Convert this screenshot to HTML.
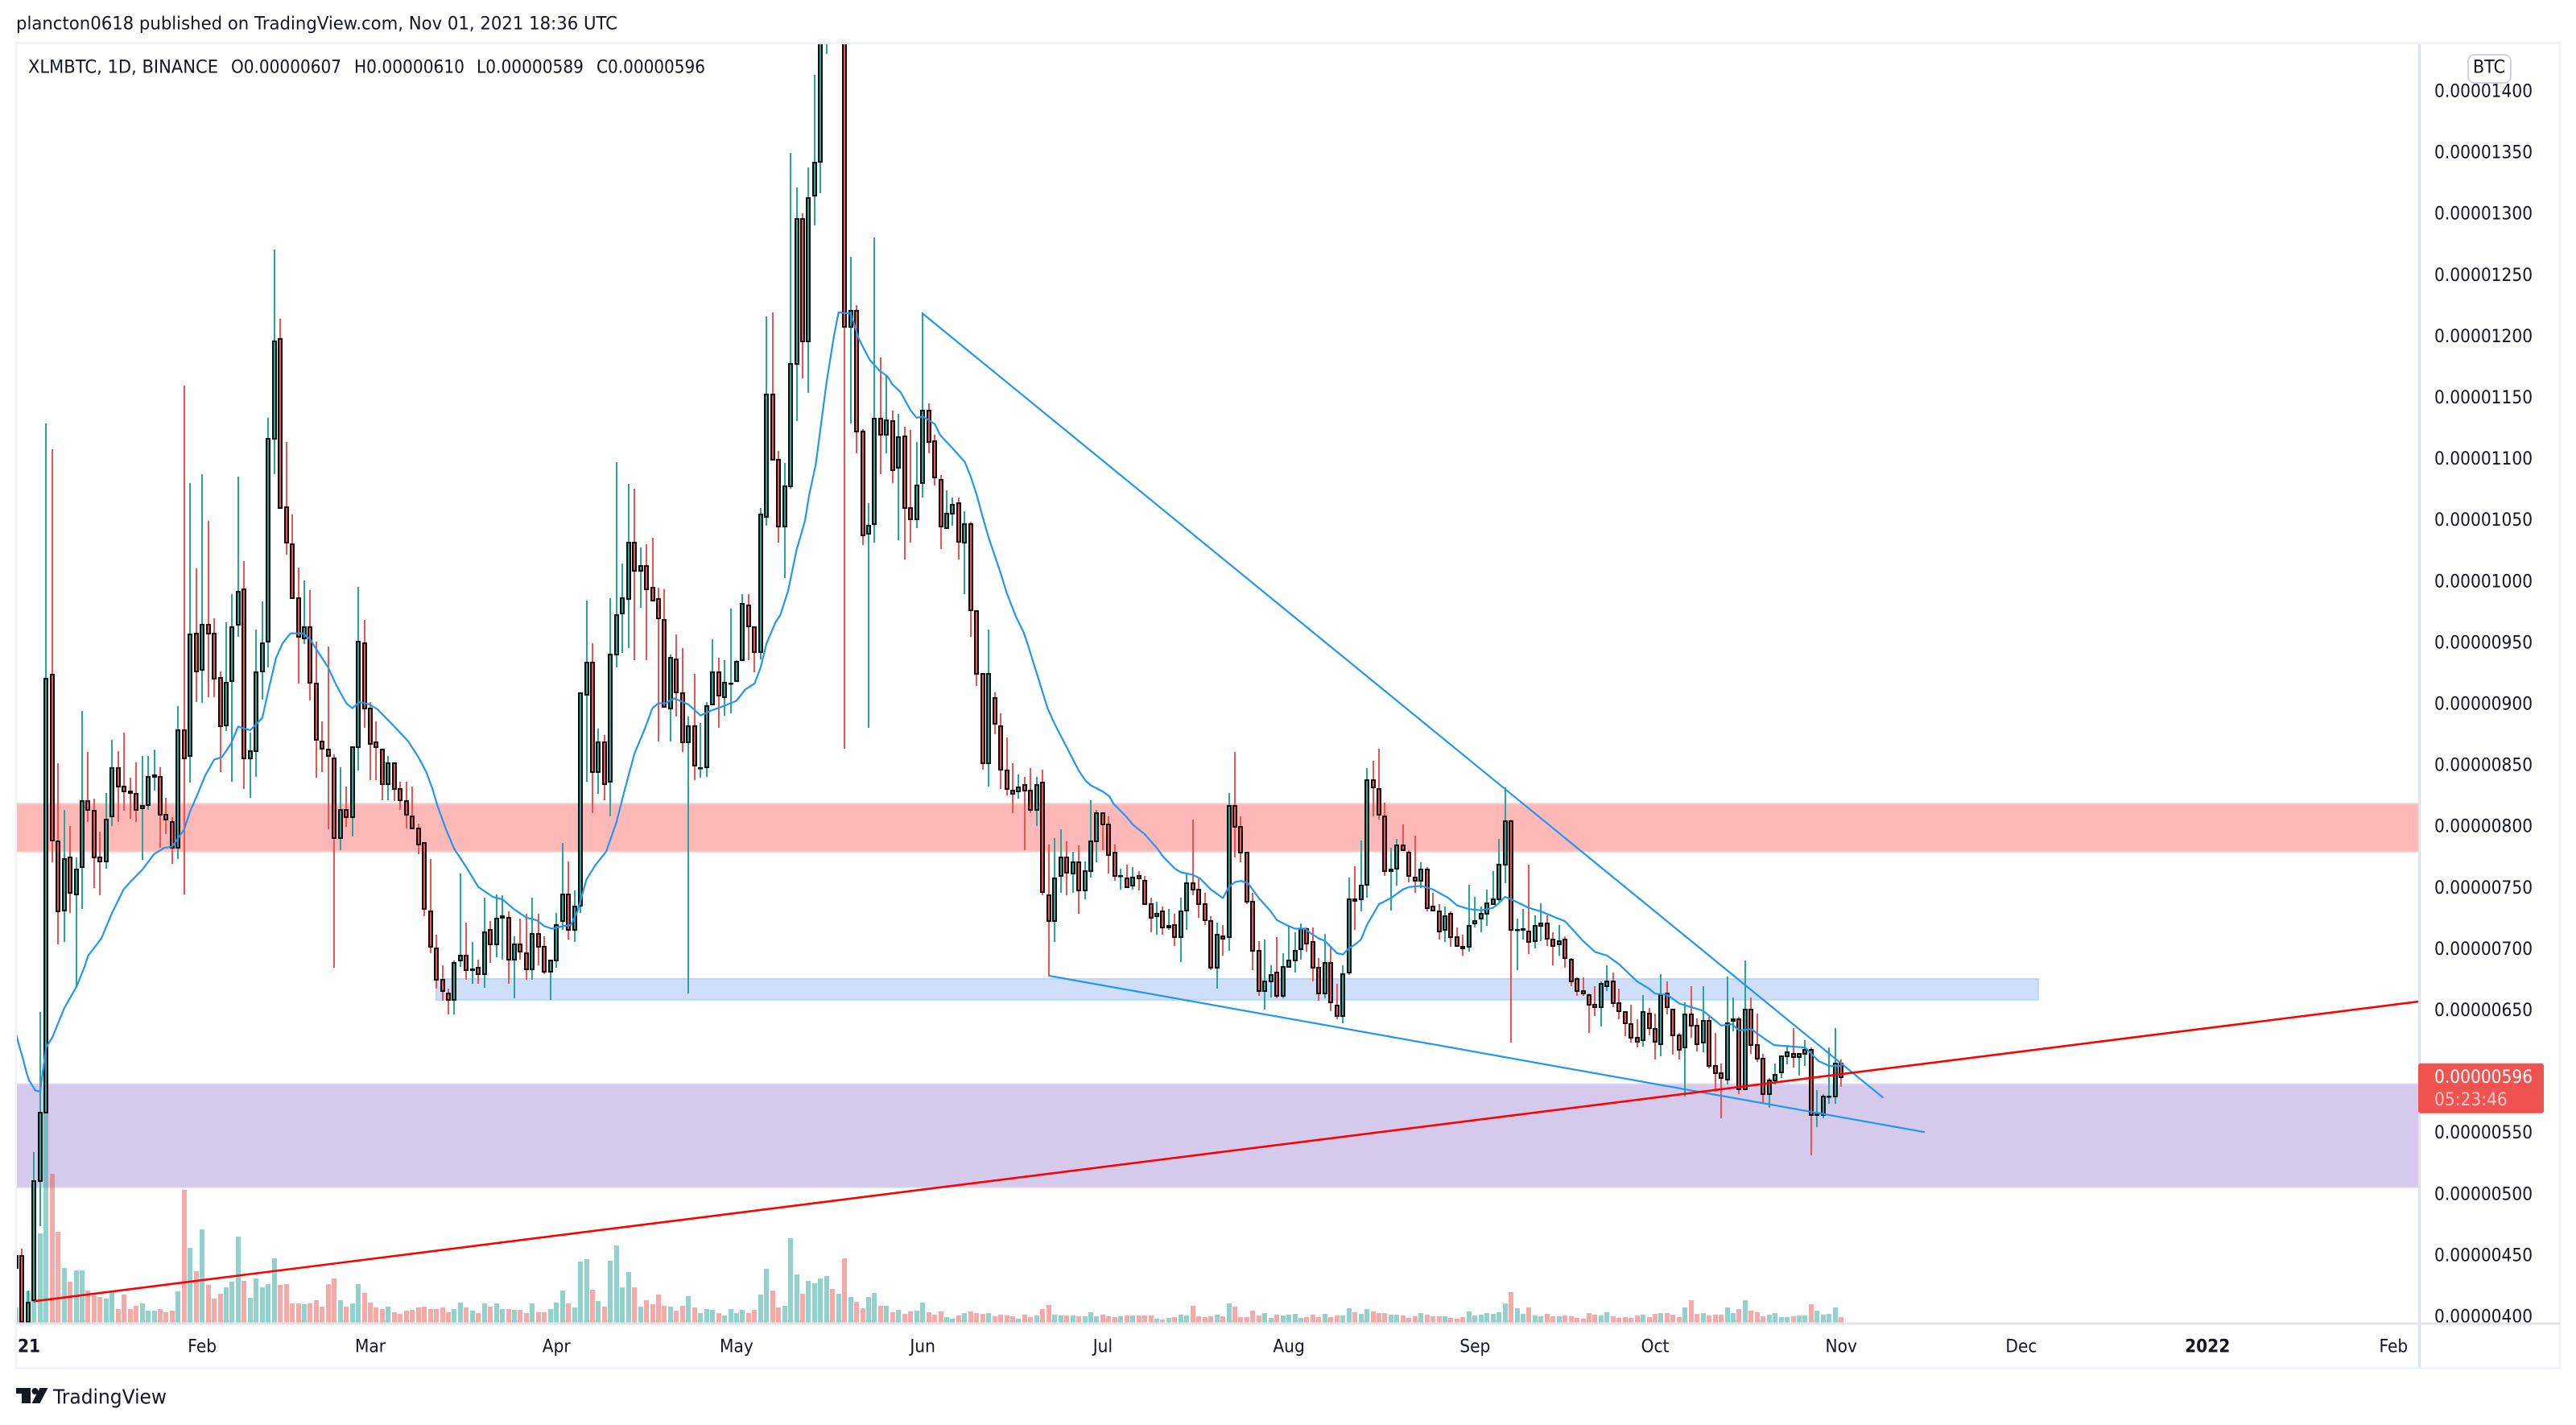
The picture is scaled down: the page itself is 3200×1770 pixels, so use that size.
<!DOCTYPE html>
<html lang="en">
<head>
<meta charset="utf-8">
<title>XLMBTC 1D chart</title>
<style>
html,body{margin:0;padding:0;background:#fff;}
body{width:3200px;height:1770px;overflow:hidden;}
svg{display:block;}
text{font-family:"DejaVu Sans","Liberation Sans",sans-serif;fill:#131722;}
</style>
</head>
<body>
<svg id="chart" xmlns="http://www.w3.org/2000/svg" width="3200" height="1770" viewBox="0 0 3200 1770">
  <defs>
    <clipPath id="plot-clip"><rect x="21" y="55" width="2983" height="1588"/></clipPath>
    <clipPath id="axis-clip"><rect x="3007" y="55" width="172" height="1588"/></clipPath>
  </defs>
  <rect x="0" y="0" width="3200" height="1770" fill="#ffffff"/>
  <text x="20" y="30" font-size="22" textLength="747" lengthAdjust="spacingAndGlyphs" dominant-baseline="central">plancton0618 published on TradingView.com, Nov 01, 2021 18:36 UTC</text>
  <rect x="20" y="53.5" width="3160" height="1646" fill="none" stroke="#f0f3fa" stroke-width="3"/>
  <g id="plot" clip-path="url(#plot-clip)"></g>
  <g id="x-axis"></g>
  <g id="y-axis" clip-path="url(#axis-clip)"></g>
  <rect x="3004" y="55" width="3" height="1644" fill="#e0e3eb"/>
  <rect x="20" y="1642.5" width="3160" height="3" fill="#e0e3eb"/>
  <g id="last-price"></g>
  <rect x="3066" y="68" width="53" height="35" rx="8" fill="#ffffff" stroke="#d1d4dc" stroke-width="2"/>
  <text x="3072" y="84" font-size="22" textLength="40" lengthAdjust="spacingAndGlyphs" dominant-baseline="central">BTC</text>
  <g>
    <text x="35" y="84" font-size="22" textLength="236" lengthAdjust="spacingAndGlyphs" dominant-baseline="central">XLMBTC, 1D, BINANCE</text>
    <text x="287" y="84" font-size="22" textLength="137" lengthAdjust="spacingAndGlyphs" dominant-baseline="central">O0.00000607</text>
    <text x="440" y="84" font-size="22" textLength="137" lengthAdjust="spacingAndGlyphs" dominant-baseline="central">H0.00000610</text>
    <text x="592" y="84" font-size="22" textLength="133" lengthAdjust="spacingAndGlyphs" dominant-baseline="central">L0.00000589</text>
    <text x="741" y="84" font-size="22" textLength="135" lengthAdjust="spacingAndGlyphs" dominant-baseline="central">C0.00000596</text>
  </g>
  <g>
    <path d="M20 1724H38V1743H27V1731H20Z" fill="#131722"/>
    <circle cx="43.5" cy="1728" r="4" fill="#131722"/>
    <path d="M49.5 1724H59.5L49.5 1743H39.5Z" fill="#131722"/>
    <text x="66" y="1735" font-size="25" textLength="141" lengthAdjust="spacingAndGlyphs" dominant-baseline="central">TradingView</text>
  </g>
</svg>
<script>
// Prices are in units of 1e-8 BTC; indexes are daily candles counted from 1 Jan 2021.
const opens=[440,450,396,414,511,567,924,788,732,775,745,767,821,813,775,772,809,848,833,829,827,815,818,841,841,810,804,783,879,858,958,928,965,958,922,883,919,965,994,856,862,927,951,1117,1198,1061,1031,987,954,963,917,870,863,856,791,814,808,865,950,897,869,863,835,852,831,821,809,799,787,731,701,675,664,659,691,695,683,685,680,716,704,726,726,692,704,697,684,713,702,682,691,723,745,716,736,908,934,845,869,837,941,974,986,1032,1009,1013,995,986,969,897,937,909,869,882,848,849,900,926,906,917,919,936,981,963,943,1053,1153,1100,1045,1078,1178,1296,1196,1315,1343,1510,1750,1650,1900,1208,1221,1123,1039,1047,1133,1120,1131,1093,1119,1060,1051,1081,1140,1115,1083,1044,1056,1064,1032,1047,976,925,852,905,882,846,830,829,834,830,814,836,744,723,760,775,762,771,748,764,788,811,802,779,760,758,752,760,756,737,727,731,718,720,710,732,754,749,737,723,685,711,710,817,800,779,739,699,666,674,681,662,686,691,700,717,706,685,664,689,654,646,681,741,741,753,838,831,809,764,766,785,779,759,756,765,735,731,716,729,710,702,702,721,725,729,737,741,769,805,716,716,715,707,719,721,708,704,708,692,676,666,663,655,653,670,674,656,649,639,628,626,648,635,623,664,651,630,620,647,638,624,642,605,599,594,642,643,586,651,622,611,582,593,600,613,615,612,615,618,565,565,580,580,607];
const closes=[450,396,412,511,567,921,789,731,774,746,765,821,814,775,772,806,848,833,829,828,814,817,841,842,810,806,783,879,856,957,927,965,958,921,882,918,963,992,856,862,926,950,1117,1196,1060,1032,987,955,963,918,871,864,858,791,814,808,865,951,897,868,865,835,852,831,822,810,799,786,733,702,675,666,659,689,695,683,684,680,714,704,725,727,692,704,698,684,713,702,682,691,720,745,716,735,909,934,845,869,835,941,973,987,1032,1009,1013,994,985,970,898,938,910,869,882,850,848,899,926,907,918,917,935,982,964,943,1055,1153,1100,1045,1078,1178,1296,1196,1313,1342,1510,1750,1650,1900,1208,1221,1123,1038,1046,1133,1120,1132,1091,1118,1060,1051,1079,1140,1114,1085,1045,1056,1063,1033,1047,977,925,852,925,884,847,831,827,832,830,814,834,747,723,758,775,763,771,748,764,788,811,802,777,760,760,751,759,758,737,726,729,718,719,710,731,754,749,737,724,685,712,709,817,800,779,739,699,666,674,679,662,686,691,699,717,705,685,664,689,657,646,680,741,740,752,838,832,810,764,765,785,781,760,756,765,734,732,715,727,710,703,701,719,723,729,738,741,769,805,716,716,716.5,706,719,721,709,703,707,693,674,666,664,655,653,672,674,656,650,640,628,625,649,636,625,663,653,630,618,647,638,623,642,605,599,595,640,643,586,651,622,611,582,593,598,613,616,612,615,618,565,566,580,580,607,596];
const highs=[476,456,422,535,649,1129,1108,852,814,801,775,895,861,823,796,828,871,862,877,840,853,858,858,863,849,824,808,899,1160,1081,1011,1088,1050,970,927,967,990,1086,1017,877,961,984,1134,1271,1215,1114,1055,1012,1001,993,951,886,947,859,849,833,866,996,969,902,886,863,858,852,837,837,833,803,787,774,712,687,668,691,762,722,706,692,742,723,745,744,731,711,725,729,742,729,711,691,730,787,772,748,909,985,950,880,875,987,1098,1015,1080,1076,1028,1031,1036,995,994,941,957,946,890,925,885,902,953,938,936,978,936,990,990,963,1060,1217,1220,1107,1097,1350,1322,1301,1338,1414,1520,1780,1760,1920,1950,1265,1226,1125,1064,1281,1183,1168,1140,1137,1127,1124,1114,1220,1146,1120,1087,1075,1069,1069,1058,1049,976,925,961,910,893,873,852,843,841,848,841,847,786,791,798,788,780,785,772,822,814,812,809,786,766,769,767,764,760,742,739,735,733,729,742,762,806,758,746,727,722,720,828,861,809,779,746,707,708,687,710,697,720,714,721,718,718,693,713,703,672,687,759,768,789,848,854,864,820,783,790,802,781,793,771,767,746,737,735,731,718,712,753,743,735,749,764,790,832,806,725,733,769,728,738,728,714,720,711,693,677,677,664,670,674,687,681,668,649,655,643,663,652,648,680,674,651,632,657,670,644,670,645,632,607,678,661,645,691,661,648,615,595,607,613,622,636,615,626,620,585,582,620,636,610];
const lows=[436,395,395,412,474,567,771,704,706,730,670,733,804,750,744,766,801,804,813,807,804,773,814,830,783,794,770,774,745,836,902,901,906,906,845,878,837,955,831,824,841,904,930,1088,1060,1022,987,917,949,903,840,845,798,685,781,800,792,846,881,838,838,822,822,821,814,799,799,778,727,697,668,658,647,647,686,675,672,672,669,689,694,692,672,660,692,675,675,687,680,659,685,716,708,706,730,837,811,827,822,809,930,942,946,936,979,936,985,870,898,870,890,861,664,838,840,841,900,881,891,893,919,936,936,926,937,1046,1100,1032,1003,1076,1131,1166,1154,1291,1317,1431,1640,1640,864,1129,1105,1030,881,1032,1088,1105,1081,1034,1018,1032,1044,1069,1105,1079,1027,1043,1046,1018,990,955,915,847,833,876,831,826,811,823,781,811,801,744,678,706,746,744,746,729,741,759,771,781,762,756,749,751,749,748,737,714,712,712,716,703,690,716,744,726,720,683,668,695,699,775,771,737,683,662,651,661,660,660,686,681,692,698,674,658,660,650,643,640,679,716,731,742,809,806,760,732,752,781,755,746,750,731,731,708,706,702,702,695,698,718,714,719,737,739,754,624,683,708,696,701,707,703,687,695,685,670,662,662,632,646,637,666,653,643,629,624,620,621,630,610,613,647,614,610,580,628,617,616,603,584,562,590,633,582,586,615,608,574,571,590,595,606,604,597,605,532,555,562,574,574,588];
const volumes=[19,33,39,84,111,262,185,113,68,51,65,65,40,34,32,30,40,17,35,17,21,24,15,15,17,13,15,39,165,93,64,116,47,30,36,44,51,107,52,31,55,44,48,80,47,48,24,24,23,24,28,20,48,55,28,20,24,48,37,25,19,17,20,13,11,15,16,19,20,17,17,19,13,17,25,19,15,12,24,20,24,17,17,16,16,12,24,13,13,17,25,40,24,19,76,79,41,27,20,77,96,44,63,44,20,28,23,35,21,20,15,21,33,19,12,17,16,12,9,17,12,16,12,16,35,67,40,19,21,105,60,36,52,49,55,58,42,36,80,32,26,18,32,37,21,21,13,16,11,14,15,25,13,10,14,7,5,9,12,14,12,11,12,8,10,9,8,5,10,7,9,17,22,10,9,9,9,8,8,13,8,10,8,7,8,9,9,9,9,9,5,4,6,7,10,9,21,8,7,8,10,8,24,20,7,7,15,9,12,6,10,9,10,11,6,7,10,7,11,7,9,9,18,13,11,17,14,12,12,10,10,9,6,8,12,10,8,8,8,6,5,7,14,9,10,12,11,13,24,38,18,11,19,9,8,11,8,8,9,8,6,5,12,10,9,13,8,6,7,6,9,10,7,11,12,12,10,7,19,28,11,12,9,10,10,19,12,17,28,15,13,8,10,12,7,7,8,9,9,23,15,10,11,19,7];

const maIndex=[0,0.6,1.2,1.7,2.2,3.2,4,5,6.1,8,10.1,11.4,12,14.2,16,17.9,19,21,23,24.7,26,28,29,30,31.5,33,34.3,35.8,37,39,41,42.2,43.3,44.4,45.7,47.8,49,50.8,52,53.3,55,56,57.2,58.9,60.2,63.2,65.3,67,68.3,69.3,70.2,71.7,73,75,77,79.4,81,82.9,85,86.7,88,89.3,91,92.4,93.5,95,96.5,98.3,100,101.2,103,104.7,106,107,108.2,109.6,112,114,115.8,118,120,121.4,123,124,125,126.5,127.3,128.6,130,131.4,132.1,133.2,134,135,136.2,137,139,140.4,142.2,143.9,145.1,146,147.3,149,150,151,153,153.9,155.8,158,159,160,161,162,164,165,166.5,167.8,168.5,171.8,173,175.1,177,178.1,179,181,182.1,182.8,185,186,188,190,191,193,194,196,197.2,199,201,202,203,204,205.2,207,209,210,212,213,214.7,215.7,217,218,219,220,221,222,223,224,225,227,229,231,232,234,236,238.6,240,242,244,246,247,248,249,252,254,256,258,259.7,261,263,265,267,270,272,273,275,277,279,281,284,285.8,287,289,291,292.8,298,300.2,302,304];
const maValues=[631,620,610,600,593,585,584,620,629,652,670,686,695,709,730,749,755,765,778,783,784,798,813,824,842,855,857,868,882,879,889,915,938,950,958,958,953,939,930,916,901,897,902,900,896,881,870,857,845,832,817,797,782,767,751,743,741,733,726,724,719,717,719,720,731,757,769,780,804,827,860,880,897,901,901,905,900,891,895,899,903,912,917,930,950,967,973,993,1026,1050,1071,1096,1126,1163,1200,1220,1219,1198,1181,1172,1168,1161,1155,1140,1134,1135,1129,1120,1110,1098,1086,1071,1053,1036,1007,991,972,959,949,897,884,864,846,838,834,829,825,819,808,802,794,783,776,766,763,761,758,749,742,751,755,756,754,742,731,724,719,717,717,713,709,707,702,697,696,701,704,708,720,737,742,749,751,752,749,742,736,733,732,734,738,743,741,734,731,727,723,714,707,698,695,688,674,668,664,663,656,653,650,638,639,634,635,628,622,620,609,605,605];

const priceTicks=[1400,1350,1300,1250,1200,1150,1100,1050,1000,950,900,850,800,750,700,650,550,500,450,400];
const timeLabels=["Feb","Mar","Apr","May","Jun","Jul","Aug","Sep","Oct","Nov","Dec","2022","Feb"];
const timeIndexes=[31,59,90,120,151,181,212,243,273,304,334,365,396];

// Drawn objects: each is [candle index, price] pairs or price ranges.
const fallingUpperLine=[[151,1219],[311,579]];
const fallingLowerLine=[[172,678.6],[317.9,551]];
const supportLine=[[3.1,413],[400.3,657.6]];
const resistanceBand=[819,780];
const demandBand=[590,506];
const midBand=[676,659];
const midBandIndexes=[70,336.8];
const countdownText="05:23:46";

const NS="http://www.w3.org/2000/svg";
const xOf=i=>20+7.458*i;
const yOf=p=>1636-(p-400)*1.522;
const volBase=1643;
const volY=v=>volBase-v;
const UP="#26a69a",DOWN="#ef5350";
const LABEL_SQUEEZE=20.2/22;
function mk(tag,attrs,parent){
  const el=document.createElementNS(NS,tag);
  for(const k in attrs)el.setAttribute(k,attrs[k]);
  parent.appendChild(el);
  return el;
}
function squeeze(t){
  t.setAttribute("textLength",(t.getComputedTextLength()*LABEL_SQUEEZE).toFixed(1));
  t.setAttribute("lengthAdjust","spacingAndGlyphs");
}
const plot=document.getElementById("plot");
const xAxis=document.getElementById("x-axis");
const yAxis=document.getElementById("y-axis");
const tag=document.getElementById("last-price");

function band(range,x0,x1,fill,edge,name){
  const r=mk("rect",{x:x0,y:yOf(range[0]),width:x1-x0,height:yOf(range[1])-yOf(range[0]),fill:fill,stroke:edge,"stroke-width":2},plot);
  
  
}
band(resistanceBand,18,3010,"#ffb8b8","#ffcaca","resistance-zone");
band(demandBand,18,3010,"#d5caeb","#dcd3ef","demand-zone");
band(midBand,xOf(midBandIndexes[0]),xOf(midBandIndexes[1]),"#cfdff8","#b8d6f8","support-zone");

volumes.forEach((v,i)=>{
  const up=closes[i]>=opens[i];
  const cx=Math.round(xOf(i));
  const b=mk("rect",{x:cx-3,y:volY(v),width:6,height:v,fill:up?UP:DOWN,"fill-opacity":0.5},plot);
  
  
});

opens.forEach((o,i)=>{
  const c=closes[i];
  const up=c>=o;
  const col=up?UP:DOWN;
  const cx=Math.round(xOf(i));
  const g=mk("g",{},plot);
  
  
  const hy=Math.round(yOf(highs[i])),ly=Math.round(yOf(lows[i]));
  const w=mk("rect",{x:cx-1,y:hy,width:2,height:Math.max(1,ly-hy),fill:col},g);
  
  
  const ty=Math.round(yOf(Math.max(o,c))),by=Math.round(yOf(Math.min(o,c)));
  const r=mk("rect",{x:cx-2,y:ty,width:4,height:Math.max(0.5,by-ty),fill:col,stroke:"#0c0c0c","stroke-width":2},g);
  
  
});

const maPts=maValues.map((v,k)=>xOf(maIndex[k]).toFixed(1)+","+yOf(v).toFixed(1)).join(" ");
const maLine=mk("polyline",{points:maPts,fill:"none",stroke:"#2196f3","stroke-width":2.2,"stroke-linejoin":"round"},plot);



function trend(pair,color,width,name){
  const l=mk("line",{x1:xOf(pair[0][0]),y1:yOf(pair[0][1]),x2:xOf(pair[1][0]),y2:yOf(pair[1][1]),stroke:color,"stroke-width":width},plot);
  
  
}
trend(fallingUpperLine,"#2196f3",2.2,"falling-resistance-trendline");
trend(fallingLowerLine,"#2196f3",2.2,"falling-support-trendline");
trend(supportLine,"#ff0000",2.6,"rising-support-trendline");

priceTicks.forEach(p=>{
  const t=mk("text",{x:3024,y:yOf(p),"font-size":22,"dominant-baseline":"central"},yAxis);
  t.textContent=(p/1e8).toFixed(8);
  squeeze(t);
  
  
});

const firstTick=mk("text",{x:22,y:1673,"font-size":22,"font-weight":"bold","dominant-baseline":"central"},xAxis);
firstTick.textContent="21";
squeeze(firstTick);


timeLabels.forEach((lab,k)=>{
  const t=mk("text",{x:xOf(timeIndexes[k]),y:1673,"font-size":22,"text-anchor":"middle","dominant-baseline":"central"},xAxis);
  if(lab==="2022")t.setAttribute("font-weight","bold");
  t.textContent=lab;
  squeeze(t);
  
  
});

const last=closes[closes.length-1];
const tagY=yOf(last);
const box=mk("rect",{x:3004,y:tagY-17,width:156,height:62,rx:3,fill:"#ef5350"},tag);


const t1=mk("text",{x:3024,y:tagY+1,"font-size":22,"dominant-baseline":"central",style:"fill:#ffffff"},tag);
t1.textContent=(last/1e8).toFixed(8);
squeeze(t1);


const t2=mk("text",{x:3024,y:tagY+29,"font-size":22,"dominant-baseline":"central",style:"fill:#fcc9c7"},tag);
t2.textContent=countdownText;
squeeze(t2);


</script>
</body>
</html>
